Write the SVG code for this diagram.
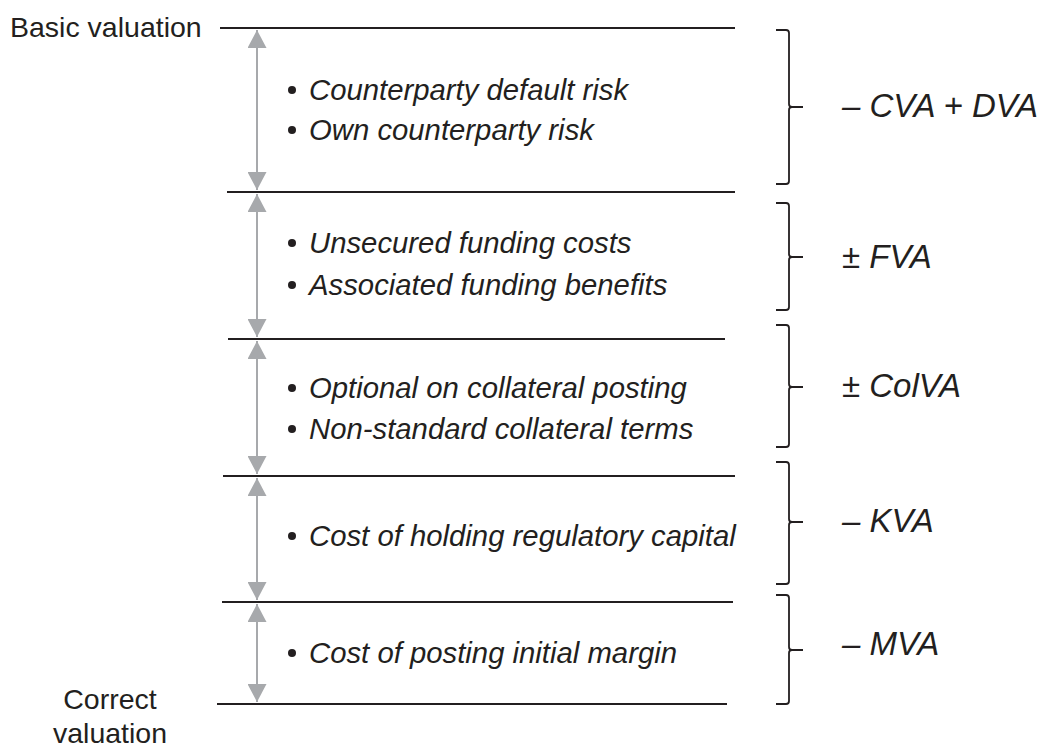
<svg xmlns="http://www.w3.org/2000/svg" width="1043" height="747" viewBox="0 0 1043 747">
<defs>
<marker id="ah" viewBox="0 0 18 19" refX="18" refY="9.5" markerWidth="18" markerHeight="19" markerUnits="userSpaceOnUse" orient="auto-start-reverse">
<path d="M0,0 L18,9.5 L0,19 z" fill="#a7a9ac"/>
</marker>
<style>
.lvl{stroke:#231f20;stroke-width:2;fill:none}
.arr{stroke:#a7a9ac;stroke-width:2;fill:none;marker-start:url(#ah);marker-end:url(#ah)}
.br{stroke:#231f20;stroke-width:1.8;fill:none}
.bul{font-family:"Liberation Sans",Arial,sans-serif;font-style:italic;font-size:29.3px;fill:#231f20}
.dot{fill:#231f20}
.lab{font-family:"Liberation Sans",Arial,sans-serif;font-style:italic;font-size:33px;fill:#231f20}
.end{font-family:"Liberation Sans",Arial,sans-serif;font-size:28.5px;fill:#231f20}
</style>
</defs>
<rect width="1043" height="747" fill="#ffffff"/>
<g id="levels">
<line class="lvl" x1="220" y1="28" x2="735" y2="28"/>
<line class="lvl" x1="227" y1="192" x2="735" y2="192"/>
<line class="lvl" x1="228" y1="339" x2="725" y2="339"/>
<line class="lvl" x1="223" y1="476" x2="735" y2="476"/>
<line class="lvl" x1="222" y1="602" x2="733" y2="602"/>
<line class="lvl" x1="217" y1="704" x2="727" y2="704"/>
</g>
<g id="connectors">
<line class="arr" x1="257" y1="30" x2="257" y2="190"/>
<line class="arr" x1="257" y1="194" x2="257" y2="337"/>
<line class="arr" x1="257" y1="341" x2="257" y2="474"/>
<line class="arr" x1="257" y1="478" x2="257" y2="600"/>
<line class="arr" x1="257" y1="604" x2="257" y2="702"/>
</g>
<g id="start-label"><text class="end" x="10" y="37">Basic valuation</text></g>
<g id="end-label"><text class="end" text-anchor="middle" x="110" y="709">Correct</text><text class="end" text-anchor="middle" x="110" y="743">valuation</text></g>
<g id="cva">
<circle class="dot" cx="292" cy="90" r="4"/>
<text class="bul" x="309" y="100">Counterparty default risk</text>
<circle class="dot" cx="292" cy="130" r="4"/>
<text class="bul" x="309" y="140">Own counterparty risk</text>
<path class="br" d="M776,30 H786 Q789,30 789,33 V104 Q789,107 792,107 H803 M792,107 Q789,107 789,110 V181 Q789,184 786,184 H776"/>
<text class="lab" x="842" y="117">– CVA + DVA</text>
</g>
<g id="fva">
<circle class="dot" cx="292" cy="243" r="4"/>
<text class="bul" x="309" y="253">Unsecured funding costs</text>
<circle class="dot" cx="292" cy="285" r="4"/>
<text class="bul" x="309" y="295">Associated funding benefits</text>
<path class="br" d="M776,203 H786 Q789,203 789,206 V254 Q789,257 792,257 H803 M792,257 Q789,257 789,260 V307 Q789,310 786,310 H776"/>
<text class="lab" x="842" y="268">± FVA</text>
</g>
<g id="colva">
<circle class="dot" cx="292" cy="388" r="4"/>
<text class="bul" x="309" y="398">Optional on collateral posting</text>
<circle class="dot" cx="292" cy="429" r="4"/>
<text class="bul" x="309" y="439">Non-standard collateral terms</text>
<path class="br" d="M776,325 H786 Q789,325 789,328 V384 Q789,387 792,387 H803 M792,387 Q789,387 789,390 V444 Q789,447 786,447 H776"/>
<text class="lab" x="842" y="397">± ColVA</text>
</g>
<g id="kva">
<circle class="dot" cx="292" cy="536" r="4"/>
<text class="bul" x="309" y="546">Cost of holding regulatory capital</text>
<path class="br" d="M776,462 H786 Q789,462 789,465 V519 Q789,522 792,522 H803 M792,522 Q789,522 789,525 V581 Q789,584 786,584 H776"/>
<text class="lab" x="842" y="532">– KVA</text>
</g>
<g id="mva">
<circle class="dot" cx="292" cy="653" r="4"/>
<text class="bul" x="309" y="663">Cost of posting initial margin</text>
<path class="br" d="M776,595 H786 Q789,595 789,598 V647 Q789,650 792,650 H803 M792,650 Q789,650 789,653 V701 Q789,704 786,704 H776"/>
<text class="lab" x="842" y="655">– MVA</text>
</g>
</svg>
